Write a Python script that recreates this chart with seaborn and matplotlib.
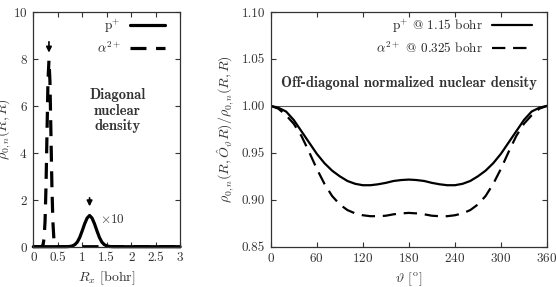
import numpy as np
import pandas as pd
import seaborn as sns
import matplotlib
matplotlib.use('Agg')
import matplotlib.pyplot as plt

# diagonal nuclear density (p+ scaled x10)
rx_p = [0, 0.65, 0.7, 0.75, 0.8, 0.85, 0.9, 0.95, 1.0, 1.05, 1.1, 1.15,
        1.2, 1.25, 1.3, 1.35, 1.4, 1.45, 1.5, 1.55, 1.6, 1.65, 3.0]
rho_p = [0, 0.0, 0.004, 0.012, 0.035, 0.09, 0.20, 0.40, 0.68, 0.98, 1.22, 1.33,
         1.22, 0.98, 0.68, 0.40, 0.20, 0.09, 0.035, 0.012, 0.004, 0.0, 0]

rx_a = [0, 0.16, 0.18, 0.20, 0.22, 0.24, 0.26, 0.28, 0.30, 0.32, 0.34, 0.36,
        0.38, 0.40, 0.42, 0.44, 0.46, 0.48, 3.0]
rho_a = [0, 0.0, 0.02, 0.09, 0.35, 1.08, 2.6, 4.85, 7.06, 7.95, 7.06, 4.85,
         2.6, 1.08, 0.35, 0.09, 0.02, 0.0, 0]

# off-diagonal normalized density
theta = [0, 10, 20, 30, 40, 50, 60, 70, 80, 90, 100, 110, 120, 130, 140, 150, 160, 170, 180,
         190, 200, 210, 220, 230, 240, 250, 260, 270, 280, 290, 300, 310, 320, 330, 340, 350, 360]
od_p = [1.000, 0.998, 0.994, 0.985, 0.973, 0.961, 0.949, 0.939, 0.931, 0.925, 0.920, 0.917,
        0.9155, 0.9155, 0.9165, 0.918, 0.920, 0.921, 0.9215,
        0.921, 0.920, 0.918, 0.9165, 0.9155, 0.9155, 0.917, 0.920, 0.925, 0.931, 0.939,
        0.949, 0.961, 0.973, 0.985, 0.994, 0.998, 1.000]
od_a = [1.000, 0.997, 0.990, 0.981, 0.968, 0.951, 0.933, 0.917, 0.904, 0.895, 0.889, 0.8855,
        0.8835, 0.8825, 0.8825, 0.883, 0.8845, 0.8855, 0.886,
        0.8855, 0.8845, 0.883, 0.8825, 0.8825, 0.8835, 0.8855, 0.889, 0.895, 0.904, 0.917,
        0.933, 0.951, 0.968, 0.981, 0.990, 0.997, 1.000]

sns.set_style('ticks')
plt.rcParams['font.family'] = ['cmr10', 'DejaVu Serif']
plt.rcParams['mathtext.fontset'] = 'cm'
plt.rcParams['axes.formatter.use_mathtext'] = True
plt.rcParams['axes.unicode_minus'] = False

txt = '#333333'
fig = plt.figure(figsize=(5.56, 2.87), dpi=100)
ax1 = fig.add_axes([0.0599, 0.1404, 0.2640, 0.8178])
ax2 = fig.add_axes([0.4869, 0.1404, 0.4969, 0.8178])

# left panel
sns.lineplot(x=rx_p, y=rho_p, ax=ax1, color='black', lw=2.3, label='p$^{+}$',
             estimator=None, sort=False, clip_on=False)
sns.lineplot(x=rx_a, y=rho_a, ax=ax1, color='black', lw=2.3, label=r'$\alpha^{2+}$',
             estimator=None, sort=False, linestyle=(0, (5, 3)))
ax1.set_xlim(0, 3)
ax1.set_ylim(0, 10)
ax1.set_xticks([0, 0.5, 1, 1.5, 2, 2.5, 3])
ax1.set_xticklabels(['0', '0.5', '1', '1.5', '2', '2.5', '3'])
ax1.set_yticks([0, 2, 4, 6, 8, 10])
ax1.set_xlabel('$R_x$ [bohr]', fontsize=10, color=txt)
ax1.set_ylabel(r'$\rho_{0,n}(R,R)$', fontsize=10, color=txt)
ax1.yaxis.set_label_coords(-0.135, 0.5)
ax1.annotate('', xy=(0.32, 8.15), xytext=(0.32, 8.85),
             arrowprops=dict(arrowstyle='-|>', color='black', lw=1.2, mutation_scale=8))
ax1.annotate('', xy=(1.15, 1.6), xytext=(1.15, 2.2),
             arrowprops=dict(arrowstyle='-|>', color='black', lw=1.2, mutation_scale=8))
ax1.text(1.37, 1.15, r'$\times$10', fontsize=9.5, color=txt, va='center', ha='left')
ax1.text(1.72, 5.8, 'Diagonal\nnuclear\ndensity', fontsize=10.5, color=txt,
         fontfamily='cmb10', ha='center', va='center', linespacing=1.1)
ax1.legend(loc='upper right', bbox_to_anchor=(0.898, 0.979), frameon=False,
           markerfirst=False, fontsize=9.5, handlelength=2.65, borderaxespad=0,
           borderpad=0, labelspacing=0.45, handletextpad=0.7)

# right panel
ax2.axhline(1.0, color='#555555', lw=0.8)
sns.lineplot(x=theta, y=od_p, ax=ax2, color='black', lw=1.6, label='p$^{+}$ @ 1.15 bohr',
             estimator=None, sort=False)
sns.lineplot(x=theta, y=od_a, ax=ax2, color='black', lw=1.6, label=r'$\alpha^{2+}$ @ 0.325 bohr',
             estimator=None, sort=False, linestyle=(0, (6, 3.5)))
ax2.set_xlim(0, 360)
ax2.set_ylim(0.85, 1.10)
ax2.set_xticks([0, 60, 120, 180, 240, 300, 360])
ax2.set_yticks([0.85, 0.90, 0.95, 1.00, 1.05, 1.10])
ax2.set_yticklabels(['0.85', '0.90', '0.95', '1.00', '1.05', '1.10'])
ax2.set_xlabel(r'$\vartheta$ [$^{\mathrm{o}}$]', fontsize=10, color=txt)
ax2.set_ylabel(r'$\rho_{0,n}(R,\hat{O}_{\vartheta}R)/\rho_{0,n}(R,R)$', fontsize=10, color=txt)
ax2.text(180, 1.024, 'Off-diagonal normalized nuclear density', fontsize=10.5, color=txt,
         fontfamily='cmb10', ha='center', va='center')
ax2.legend(loc='upper right', bbox_to_anchor=(0.946, 0.979), frameon=False,
           markerfirst=False, fontsize=9.5, handlelength=3.0, borderaxespad=0,
           borderpad=0, labelspacing=0.45, handletextpad=0.7)

for ax in (ax1, ax2):
    ax.tick_params(direction='in', top=True, right=True, length=3.5, width=0.8,
                   labelsize=9.5, colors=txt, pad=4)
    for s in ax.spines.values():
        s.set_visible(True)
        s.set_color('#333333')
        s.set_linewidth(0.9)

fig.savefig('out.png', dpi=100)
